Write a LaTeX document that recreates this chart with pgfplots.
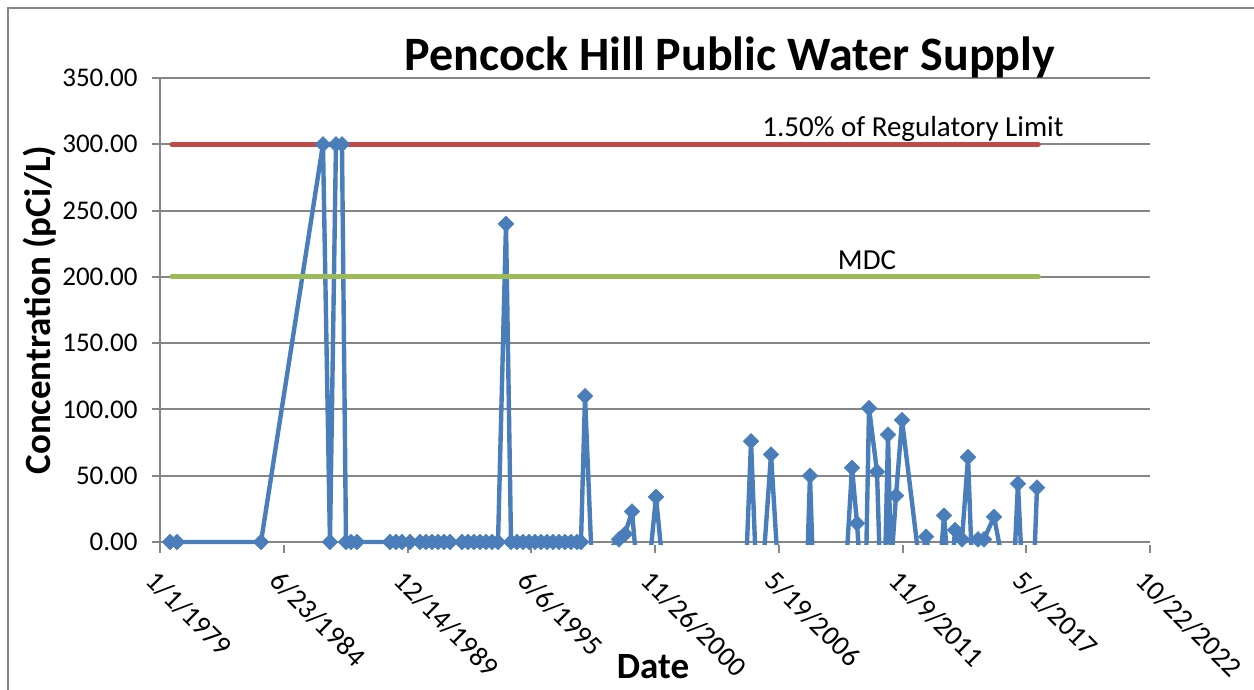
\documentclass[border=0pt]{standalone}
\usepackage{fontspec}
\setmainfont{Carlito}
\usepackage{pgfplots}
\usepackage{pgfplotstable}
\pgfplotsset{compat=1.18}
\definecolor{blueL}{HTML}{4A7EBB}
\definecolor{redL}{HTML}{BE4B48}
\definecolor{greenL}{HTML}{9BBB59}
\definecolor{gridC}{HTML}{868686}

% date (Excel serial day), concentration; negative values are below the axis (clipped)
\pgfplotstableread{
x y
29018 0
29131 0
30488 0
31490 300
31603 0
31700 300
31797 300
31862 0
31943 0
32040 0
32573 0
32670 0
32767 0
32896 0
33058 0
33155 0
33252 0
33349 0
33446 0
33543 0
33737 0
33834 0
33931 0
34028 0
34125 0
34222 0
34319 0
34448 240
34529 0
34626 0
34723 0
34820 0
34917 0
35014 0
35111 0
35208 0
35305 0
35401 0
35498 0
35595 0
35660 0
35725 110
35838 -20
36274 2
36371 6
36484 23
36565 -20
36759 -20
36872 34
36985 -20
38327 -20
38408 76
38488 -20
38601 -20
38731 66
38844 -20
39313 -20
39361 50
39410 -20
39943 -20
40040 56
40121 14
40169 -20
40266 -20
40315 101
40444 53
40492 -20
40573 -20
40622 81
40670 -20
40751 35
40848 92
41139 -20
41236 4
41333 -20
41462 -20
41527 20
41591 -20
41656 -20
41705 9
41818 2
41915 64
41980 -20
42076 2
42173 2
42335 19
42496 -20
42658 -20
42722 44
42787 -20
42981 -20
43030 41
}\linedata

\begin{document}
\begin{tikzpicture}
\useasboundingbox (0pt,0pt) rectangle (627pt,345pt);
\draw[color=gridC, line width=0.75pt] (4pt,-5pt) -- (4pt,341pt) -- (630pt,341pt);
\begin{axis}[
  at={(80pt,72.675pt)}, anchor=south west,
  width=495pt, height=233.3pt, scale only axis,
  xmin=28856, xmax=44856, ymin=-2, ymax=350,
  xtick={28856,30856,32856,34856,36856,38856,40856,42856,44856},
  xticklabels={1/1/1979,6/23/1984,12/14/1989,6/6/1995,11/26/2000,5/19/2006,11/9/2011,5/1/2017,10/22/2022},
  ytick={0,50,...,350},
  ymajorgrids, grid style={gridC, line width=1pt},
  axis x line*=bottom, axis y line*=left,
  x axis line style={draw=none},
  y axis line style={gridC, line width=1pt},
  tick align=outside, major tick length=4pt,
  tick style={gridC, line width=1pt},
  scaled y ticks=false, scaled x ticks=false,
  yticklabel style={font=\fontsize{13.5}{13.5}\selectfont, anchor=east, inner sep=0pt, xshift=-7pt,
    /pgf/number format/.cd, fixed, fixed zerofill, precision=2, assume math mode=true},
  xticklabel style={font=\fontsize{14}{14}\selectfont, rotate=-45, anchor=north west, inner sep=0pt, yshift=-6pt, xshift=5pt},
]
\addplot[blueL, line width=2.2pt, line join=round] table[x=x,y=y] {\linedata};
\addplot[redL, line width=2.6pt, line cap=round] coordinates {(29050,300) (43050,300)};
\addplot[greenL, line width=2.6pt, line cap=round] coordinates {(29050,200) (43050,200)};
\addplot[only marks, mark=square*, mark size=2.75pt,
  mark options={rotate=45, fill=blueL, draw=blueL, line width=0.3pt},
  restrict y to domain=0:400] table[x=x,y=y] {\linedata};
\end{axis}
\node[font=\bfseries\fontsize{24}{24}\selectfont, anchor=base] at (365pt,309.5pt) {Pencock Hill Public Water Supply};
\node[font=\fontsize{14.5}{14.5}\selectfont, anchor=base] at (456.5pt,276.5pt) {1.50\% of Regulatory Limit};
\node[font=\fontsize{14.5}{14.5}\selectfont, anchor=base] at (433.5pt,210pt) {MDC};
\node[font=\bfseries\fontsize{18.5}{18.5}\selectfont, anchor=base] at (326.5pt,5.5pt) {Date};
\node[font=\bfseries\fontsize{18.5}{18.5}\selectfont, rotate=90, anchor=center] at (20pt,190pt) {Concentration (pCi/L)};
\end{tikzpicture}
\end{document}
